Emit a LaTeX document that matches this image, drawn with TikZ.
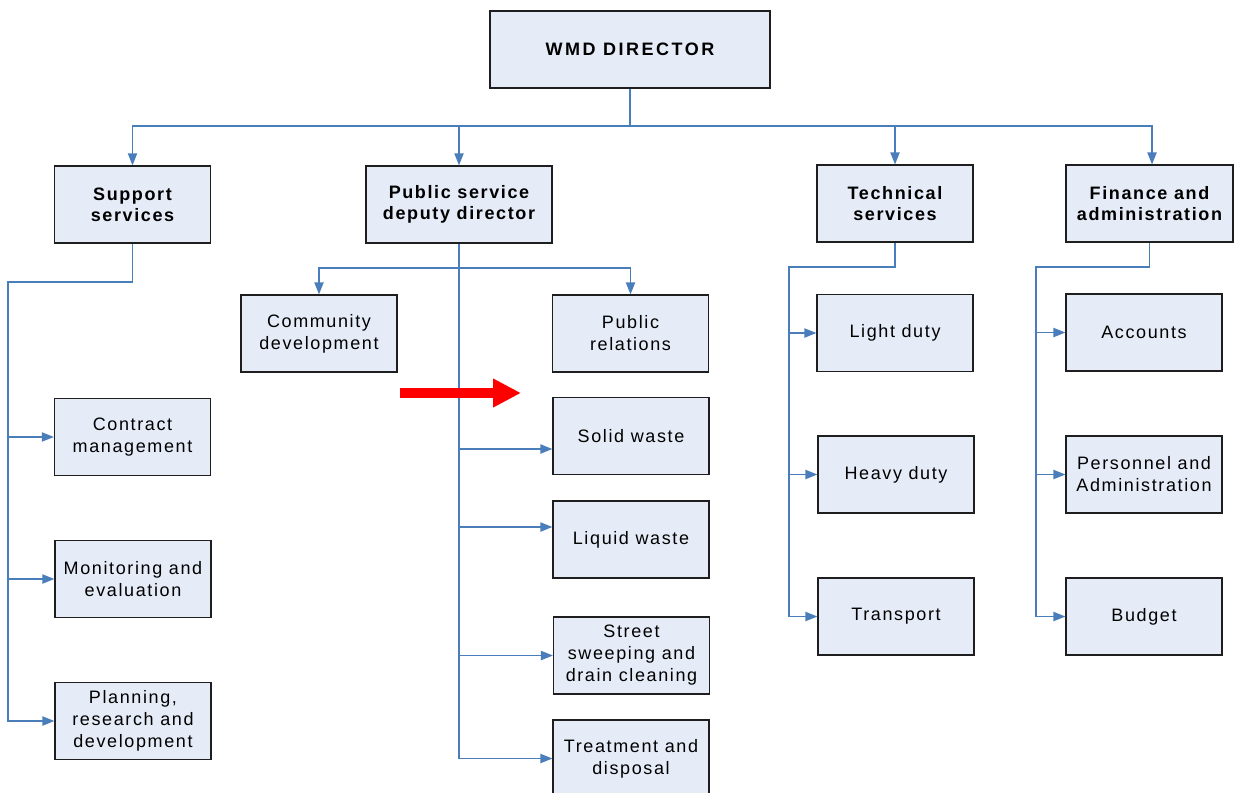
\documentclass[tikz,border=0pt]{standalone}
\usepackage{fontspec}
\setmainfont{Liberation Sans}
\newfontfamily\orgfont{Liberation Sans}[LetterSpace=9]
\newfontfamily\topfont{Liberation Sans}[LetterSpace=14]
\usetikzlibrary{arrows.meta}
\definecolor{boxfill}{HTML}{E6ECF7}
\definecolor{boxline}{HTML}{1E1E1E}
\definecolor{linkblue}{HTML}{4A7EBB}
\definecolor{alertred}{HTML}{FF0000}

\begin{document}
\begin{tikzpicture}[x=0.5pt,y=-0.5pt,
  unit/.style={draw=boxline, line width=0.6pt, fill=boxfill, inner sep=0pt,
    align=center, minimum width=78pt, minimum height=38.5pt, text=black,
    font=\orgfont\fontsize{9}{11}\selectfont},
  head/.style={unit, font=\orgfont\bfseries\fontsize{9}{10.5}\selectfont},
  link/.style={draw=linkblue, line width=0.65pt},
  feed/.style={link, -{Triangle[length=6pt,width=4.6pt]}}
]
\useasboundingbox (0,0) rectangle (1234,792);
\fill[white] (0,0) rectangle (1234,792);

% top of the chart
\node[head, minimum width=140pt, font=\topfont\bfseries\fontsize{9}{11}\selectfont] (dir) at (630,49.5) {WMD DIRECTOR};
\node[head] (ss) at (132.5,204.5) {Support\\services};
\node[head, minimum width=93pt] (ps) at (459,204.5) {Public service\\deputy director};
\node[head] (ts) at (895,203.5) {Technical\\services};
\node[head, minimum width=83.5pt] (fa) at (1149.5,203.5) {Finance and\\administration};

% support services units
\node[unit] (cm) at (132.5,437) {Contract\\management};
\node[unit] (me) at (133,579) {Monitoring and\\evaluation};
\node[unit] (prd) at (133,721) {Planning,\\research and\\development};

% public service units
\node[unit] (cd) at (319,333.5) {Community\\development};
\node[unit] (pr) at (630.5,333.5) {Public\\relations};
\node[unit] (sw) at (631,436) {Solid waste};
\node[unit] (lw) at (631,539.5) {Liquid waste};
\node[unit] (st) at (631.5,655.5) {Street\\sweeping and\\drain cleaning};
\node[unit] (td) at (631,758.5) {Treatment and\\disposal};

% technical services units
\node[unit] (ld) at (895,333) {Light duty};
\node[unit] (hd) at (896,474.5) {Heavy duty};
\node[unit] (tr) at (896,616.5) {Transport};

% finance and administration units
\node[unit] (ac) at (1144,332.5) {Accounts};
\node[unit] (pa) at (1144,474.5) {Personnel and\\Administration};
\node[unit] (bu) at (1144,616.5) {Budget};

% director to departments
\coordinate (topbus) at (630,126);
\draw[link] (dir.south) -- (topbus);
\draw[feed] (topbus) -| (ss.north);
\draw[feed] (topbus) -| (ps.north);
\draw[feed] (topbus) -| (ts.north);
\draw[feed] (topbus) -| ([xshift=1.25pt]fa.north);

% support services branch
\coordinate (sbend) at (8,282);
\draw[feed] (ss.south) |- (sbend) |- (prd.west);
\draw[feed] (sbend |- cm.west) -- (cm.west);
\draw[feed] (sbend |- me.west) -- (me.west);

% public service branch
\coordinate (pfork) at (459,268);
\coordinate (swin) at ([yshift=-6.5pt]sw.west);
\coordinate (lwin) at ([yshift=6.25pt]lw.west);
\draw[feed] (ps.south) -- (pfork) |- (td.west);
\draw[feed] (pfork) -| (cd.north);
\draw[feed] (pfork) -| (pr.north);
\draw[feed] (pfork |- swin) -- (swin);
\draw[feed] (pfork |- lwin) -- (lwin);
\draw[feed] (pfork |- st.west) -- (st.west);

% technical services branch
\coordinate (tbend) at (789,267);
\draw[feed] (ts.south) |- (tbend) |- (tr.west);
\draw[feed] (tbend |- ld.west) -- (ld.west);
\draw[feed] (tbend |- hd.west) -- (hd.west);

% finance and administration branch
\coordinate (fbend) at (1036,267);
\draw[feed] (fa.south) |- (fbend) |- (bu.west);
\draw[feed] (fbend |- ac.west) -- (ac.west);
\draw[feed] (fbend |- pa.west) -- (pa.west);

% red highlight arrow
\coordinate (alertfrom) at (400,393);
\coordinate (alertto) at (521,393);
\draw[alertred, line width=5pt, -{Triangle[length=14pt,width=13.5pt]}] (alertfrom) -- (alertto);
\end{tikzpicture}
\end{document}
